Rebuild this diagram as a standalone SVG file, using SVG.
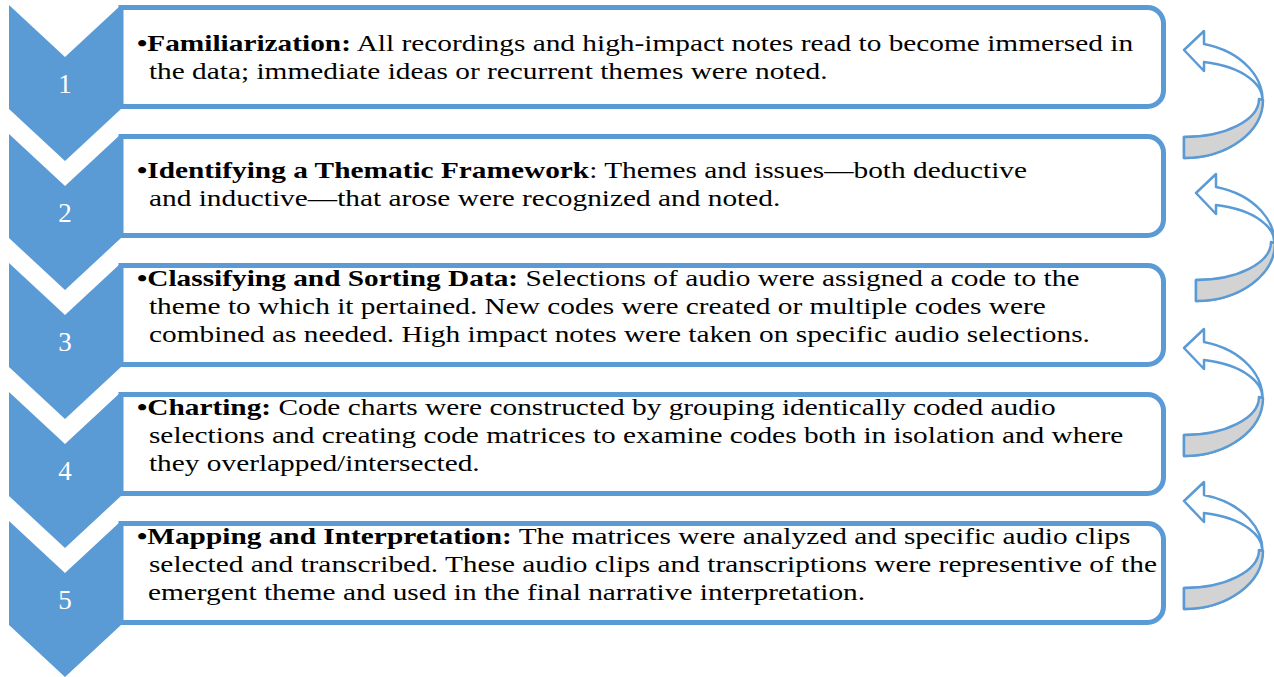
<svg xmlns="http://www.w3.org/2000/svg" width="1274" height="677" viewBox="0 0 1274 677">
<style>
.chev{fill:#5B9BD5;}
.box{fill:#FFFFFF;stroke:#5B9BD5;stroke-width:5;}
.num{font-family:"Liberation Serif","Times New Roman",serif;font-size:27px;fill:#FFFFFF;text-anchor:middle;}
.txt{font-family:"Liberation Serif","Times New Roman",serif;font-size:24px;fill:#000000;}
.b{font-weight:bold;}
.arw{fill:#FFFFFF;stroke:#5B9BD5;stroke-width:2.5;stroke-linejoin:round;}
.arwg{fill:#D3D3D3;stroke:#5B9BD5;stroke-width:2.5;stroke-linejoin:round;}
</style>
<defs>
<path id="chevShape" d="M9,0 L65,52 L121,0 L121,104 L65,156 L9,104 Z"/>
<path id="boxShape" d="M121,2.5 H1147.5 A16,16 0 0 1 1163.5,18.5 V85.5 A16,16 0 0 1 1147.5,101.5 H121 Z"/>
<g id="curvedArrow">
<path class="arw" d="M1184,50 L1204,31 L1204,44 A79,58 0 0 1 1184,158 L1184,137 A75,38 0 0 0 1204,62 L1204,71 Z"/>
<path class="arwg" d="M1263,100 A79,58 0 0 1 1184,158 L1184,137 A75,38 0 0 0 1259,99 Z"/>
</g>
</defs>
<rect x="0" y="0" width="1274" height="677" fill="#FFFFFF"/>

<g id="step1" transform="translate(0,5)">
<use href="#boxShape" class="box"/>
<use href="#chevShape" class="chev"/>
<text class="num" x="65" y="88">1</text>
<g transform="scale(1.223,1)">
<text class="txt" x="112" y="46"><tspan class="b">•Familiarization:</tspan> All recordings and high-impact notes read to become immersed in</text>
<text class="txt" x="121.8" y="74">the data; immediate ideas or recurrent themes were noted.</text>
</g>
</g>

<g id="step2" transform="translate(0,134)">
<use href="#boxShape" class="box"/>
<use href="#chevShape" class="chev"/>
<text class="num" x="65" y="88">2</text>
<g transform="scale(1.223,1)">
<text class="txt" x="112" y="44.5"><tspan class="b">•Identifying a Thematic Framework</tspan>: Themes and issues—both deductive</text>
<text class="txt" x="121.8" y="72">and inductive—that arose were recognized and noted.</text>
</g>
</g>

<g id="step3" transform="translate(0,263)">
<use href="#boxShape" class="box"/>
<use href="#chevShape" class="chev"/>
<text class="num" x="65" y="88">3</text>
<g transform="scale(1.223,1)">
<text class="txt" x="112" y="23"><tspan class="b">•Classifying and Sorting Data:</tspan> Selections of audio were assigned a code to the</text>
<text class="txt" x="121.8" y="51">theme to which it pertained. New codes were created or multiple codes were</text>
<text class="txt" x="121.8" y="79">combined as needed. High impact notes were taken on specific audio selections.</text>
</g>
</g>

<g id="step4" transform="translate(0,392)">
<use href="#boxShape" class="box"/>
<use href="#chevShape" class="chev"/>
<text class="num" x="65" y="88">4</text>
<g transform="scale(1.223,1)">
<text class="txt" x="112" y="23"><tspan class="b">•Charting:</tspan> Code charts were constructed by grouping identically coded audio</text>
<text class="txt" x="121.8" y="51">selections and creating code matrices to examine codes both in isolation and where</text>
<text class="txt" x="121.8" y="79">they overlapped/intersected.</text>
</g>
</g>

<g id="step5" transform="translate(0,521)">
<use href="#boxShape" class="box"/>
<use href="#chevShape" class="chev"/>
<text class="num" x="65" y="88">5</text>
<g transform="scale(1.223,1)">
<text class="txt" x="112" y="23"><tspan class="b">•Mapping and Interpretation:</tspan> The matrices were analyzed and specific audio clips</text>
<text class="txt" x="121.8" y="51">selected and transcribed. These audio clips and transcriptions were representive of the</text>
<text class="txt" x="121" y="79">emergent theme and used in the final narrative interpretation.</text>
</g>
</g>

<g id="connectors">
<use href="#curvedArrow"/>
<use href="#curvedArrow" transform="translate(12,143)"/>
<use href="#curvedArrow" transform="translate(0,298)"/>
<use href="#curvedArrow" transform="translate(0,451)"/>
</g>
</svg>
